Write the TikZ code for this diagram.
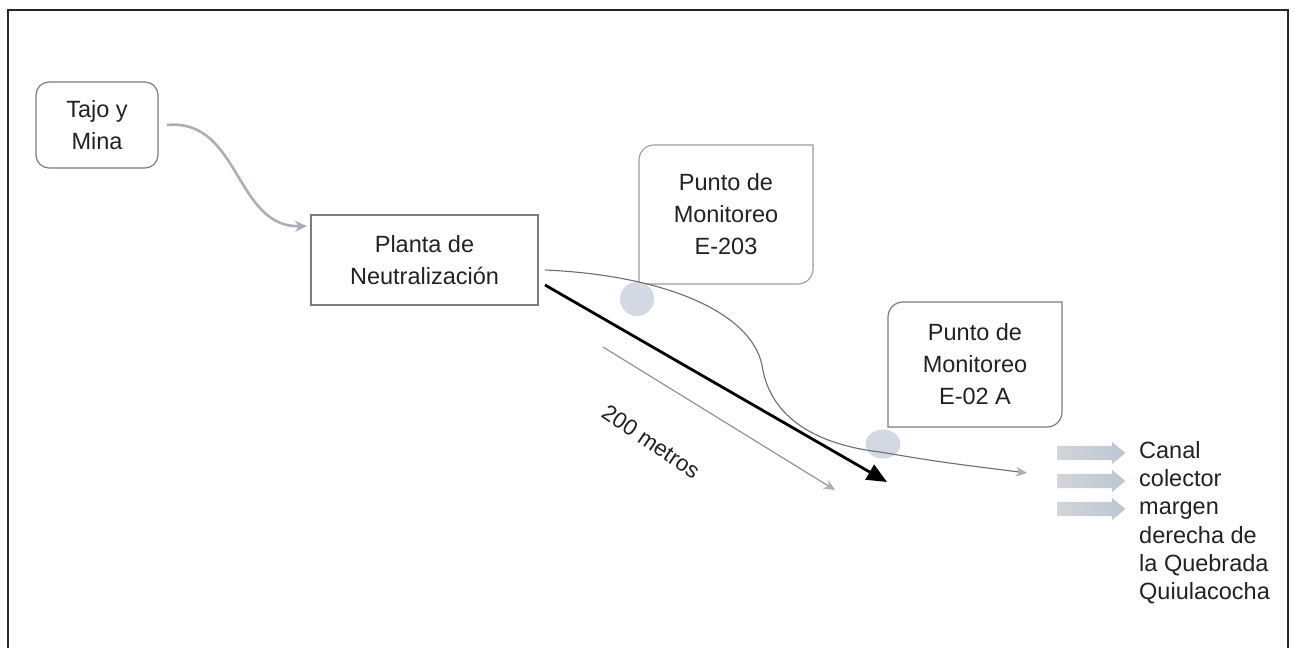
\documentclass[tikz,border=0pt]{standalone}
\usepackage{fontspec}
\setmainfont{Liberation Sans}
\usetikzlibrary{arrows.meta,shapes.arrows,shapes.geometric}
\definecolor{txt}{HTML}{222222}
\definecolor{boxline}{HTML}{7C7C7C}
\definecolor{monline}{HTML}{9C9C9C}
\definecolor{flowgray}{HTML}{6E6E6E}
\definecolor{tajogray}{HTML}{A9B0B8}
\definecolor{tipgray}{HTML}{A8B0B8}
\definecolor{dotfill}{HTML}{D2D9E3}
\definecolor{blockL}{HTML}{D2D5D9}
\definecolor{blockR}{HTML}{BCC6D2}
\tikzset{
  lbl/.style={font=\fontsize{23.5}{32}\selectfont, text=txt, align=center},
  sqbox/.style={lbl, draw=boxline, line width=1.2pt, inner sep=0pt, outer sep=0pt},
  mon/.style={lbl, draw=none, inner sep=0pt, outer sep=0pt},
  dot/.style={fill=dotfill, draw=none, inner sep=0pt},
  blockarrow/.style={shape=single arrow, draw=none, left color=blockL, right color=blockR,
    inner sep=7pt, minimum height=68pt, minimum width=22pt, single arrow head extend=4pt,
    single arrow tip angle=80},
}
% box outline with the top-left and bottom-right corners rounded
\newcommand\diagcorners[2]{%
  \draw[#2] (#1.south west) -- ([yshift=-15pt]#1.north west)
    arc[start angle=180, end angle=90, radius=15pt] -- (#1.north east)
    -- ([yshift=15pt]#1.south east)
    arc[start angle=0, end angle=-90, radius=15pt] -- cycle;}
\begin{document}
\begin{tikzpicture}[x=1pt,y=-1pt]
\useasboundingbox (0,0) rectangle (1295,648);
\fill[white] (0,0) rectangle (1295,648);
\draw[line width=1.8pt, color=black!85] (8,648) -- (8,10) -- (1288,10) -- (1288,648);

% boxes
\node[sqbox, rounded corners=13pt, minimum width=122pt, minimum height=86pt] (tajo) at (97,125) {Tajo y\\Mina};
\node[sqbox, minimum width=227pt, minimum height=90pt] (planta) at (424.5,260) {Planta de\\Neutralización};
\node[mon, minimum width=174pt, minimum height=139pt] (e203) at (726,214.5) {Punto de\\Monitoreo\\E-203};
\node[mon, minimum width=174pt, minimum height=125pt] (e02) at (975,364.5) {Punto de\\Monitoreo\\E-02 A};
\diagcorners{e203}{draw=monline, line width=1.1pt}
\diagcorners{e02}{draw=boxline, line width=1.2pt}

% monitoring points
\node[dot, circle, minimum size=34pt] (p203) at (637,299) {};
\node[dot, ellipse, minimum width=35pt, minimum height=29pt] (p02) at (883,444) {};

% coordinates
\coordinate (canalin) at (1027,473);
\coordinate (blackend) at (887,482);
\coordinate (ta) at (603,347);
\coordinate (tb) at (835,490);

% Tajo -> Planta
\draw[tajogray, line width=2.6pt, -{Stealth[length=12pt,width=11pt]}]
  ([xshift=9pt]tajo.east) .. controls (240,118) and (235,228) .. ([shift={(-4,-34)}]planta.west);

% flow curve
\draw[flowgray, line width=1.1pt, -{Stealth[length=11pt,width=10pt,color=tipgray]}]
  ([shift={(7,10)}]planta.east) .. controls (660,275) and (750,310) .. (762,365)
  .. controls (770,420) and (820,445) .. (880,452)
  .. controls (940,462) .. (canalin);

% black distance arrow
\draw[black, line width=2.8pt, -{Triangle[length=20pt,width=17pt]}]
  ([shift={(7,25)}]planta.east) -- (blackend);

% thin gray arrow
\draw[black!45, line width=1.1pt, -{Stealth[length=11pt,width=10pt,color=tipgray]}] (ta) -- (tb);

\node[rotate=-34, font=\fontsize{22.5}{26}\selectfont, text=txt, inner sep=1pt] (dist) at (651,442) {200 metros};

% block arrows
\node[blockarrow] (b1) at (1087,453) {};
\node[blockarrow] (b2) at (1087,481) {};
\node[blockarrow] (b3) at (1087,509) {};

\node[anchor=north west, inner sep=0pt, align=left, text=txt, font=\fontsize{23.5}{28.3}\selectfont] (canal) at (1139,441)
  {Canal\\colector\\margen\\derecha de\\la Quebrada\\Quiulacocha};
\end{tikzpicture}
\end{document}
